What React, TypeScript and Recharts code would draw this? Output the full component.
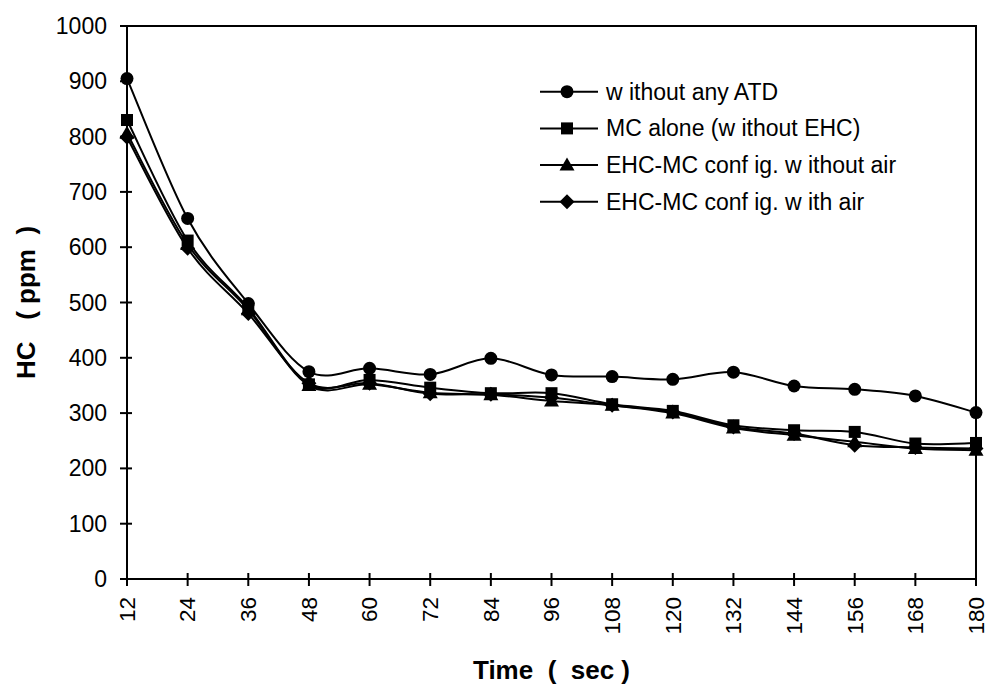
import React from 'react';
import { LineChart, Line, XAxis, YAxis, Legend, ReferenceArea } from 'recharts';

// Time (sec) categories and HC (ppm) readings for each configuration
const TIMES = [12, 24, 36, 48, 60, 72, 84, 96, 108, 120, 132, 144, 156, 168, 180];
const WITHOUT_ATD = [905, 652, 498, 375, 381, 370, 399, 369, 366, 361, 374, 349, 343, 331, 301];
const MC_ALONE = [830, 612, 490, 352, 360, 346, 336, 336, 316, 304, 278, 269, 266, 245, 246];
const EHC_NO_AIR = [806, 605, 487, 350, 352, 337, 333, 322, 314, 300, 273, 260, 248, 236, 233];
const EHC_AIR = [799, 598, 480, 354, 354, 335, 334, 328, 314, 302, 275, 263, 242, 238, 236];
const Y_TICKS = [0, 100, 200, 300, 400, 500, 600, 700, 800, 900, 1000];

const SERIES = [
  { key: 'atd', name: 'w ithout any ATD', shape: 'circle', values: WITHOUT_ATD },
  { key: 'mc', name: 'MC alone (w ithout EHC)', shape: 'square', values: MC_ALONE },
  { key: 'noair', name: 'EHC-MC conf ig. w ithout air', shape: 'triangle', values: EHC_NO_AIR },
  { key: 'air', name: 'EHC-MC conf ig. w ith air', shape: 'diamond', values: EHC_AIR },
];

const data = TIMES.map((t, i) => {
  const row: Record<string, number> = { time: t };
  SERIES.forEach((s) => {
    row[s.key] = s.values[i];
  });
  return row;
});

const FONT = '"Liberation Sans", Arial, sans-serif';

// Smoothed line through the points (cubic Bezier, Catmull-Rom style tangents)
const smoothCurve = (context: any) => {
  let pts: number[][] = [];
  return {
    areaStart() {},
    areaEnd() {},
    lineStart() {
      pts = [];
    },
    point(x: number, y: number) {
      pts.push([+x, +y]);
    },
    lineEnd() {
      const n = pts.length;
      if (!n) return;
      context.moveTo(pts[0][0], pts[0][1]);
      for (let i = 0; i < n - 1; i++) {
        const p0 = pts[i - 1] || pts[i];
        const p1 = pts[i];
        const p2 = pts[i + 1];
        const p3 = pts[i + 2] || p2;
        context.bezierCurveTo(
          p1[0] + (p2[0] - p0[0]) / 6,
          p1[1] + (p2[1] - p0[1]) / 6,
          p2[0] - (p3[0] - p1[0]) / 6,
          p2[1] - (p3[1] - p1[1]) / 6,
          p2[0],
          p2[1]
        );
      }
    },
  };
};

const Marker = ({ shape, cx, cy }: { shape: string; cx: number; cy: number }) => {
  if (shape === 'circle') return <circle cx={cx} cy={cy} r={6.5} fill="#000" />;
  if (shape === 'square') return <rect x={cx - 6} y={cy - 6} width={12} height={12} fill="#000" />;
  if (shape === 'triangle')
    return <polygon points={`${cx},${cy - 7.5} ${cx + 7.5},${cy + 5.5} ${cx - 7.5},${cy + 5.5}`} fill="#000" />;
  return <polygon points={`${cx},${cy - 7.5} ${cx + 7.5},${cy} ${cx},${cy + 7.5} ${cx - 7.5},${cy}`} fill="#000" />;
};

const XTick = (props: any) => {
  const { x, y, payload } = props;
  return (
    <g>
      <line x1={x} y1={y - 6} x2={x} y2={y + 7} stroke="#000" strokeWidth={2} />
      <text
        x={x}
        y={y + 18}
        dy={7.8}
        transform={`rotate(-90 ${x} ${y + 18})`}
        textAnchor="end"
        fontFamily={FONT}
        fontSize={22.5}
        fill="#000"
      >
        {payload.value}
      </text>
    </g>
  );
};

const YTick = (props: any) => {
  const { x, y, payload } = props;
  return (
    <g>
      <line x1={x - 7} y1={y} x2={x + 5} y2={y} stroke="#000" strokeWidth={2} />
      <text x={x - 20} y={y + 8} textAnchor="end" fontFamily={FONT} fontSize={23} fill="#000">
        {payload.value}
      </text>
    </g>
  );
};

const XTitle = (props: any) => {
  const vb = props.viewBox;
  return (
    <text
      x={vb.x + vb.width / 2}
      y={vb.y + 100}
      textAnchor="middle"
      fontFamily={FONT}
      fontWeight="bold"
      fontSize={26}
      style={{ whiteSpace: 'pre' }}
      fill="#000"
    >
      {'Time  (  sec )'}
    </text>
  );
};

const YTitle = (props: any) => {
  const vb = props.viewBox;
  const cy = vb.y + vb.height / 2;
  return (
    <text
      x={35}
      y={cy}
      transform={`rotate(-90 35 ${cy})`}
      textAnchor="middle"
      fontFamily={FONT}
      fontWeight="bold"
      fontSize={26}
      style={{ whiteSpace: 'pre' }}
      fill="#000"
    >
      {'HC   ( ppm  )'}
    </text>
  );
};

const LegendBox = () => (
  <svg width={440} height={150} style={{ display: 'block' }}>
    {SERIES.map((s, i) => {
      const cy = 21.7 + i * 36.7;
      return (
        <g key={s.key}>
          <line x1={10} y1={cy} x2={68} y2={cy} stroke="#000" strokeWidth={2} />
          <Marker shape={s.shape} cx={37} cy={cy} />
          <text x={76} y={cy + 8} fontFamily={FONT} fontSize={23} fill="#000" style={{ whiteSpace: 'pre' }}>
            {s.name}
          </text>
        </g>
      );
    })}
  </svg>
);

export default function App() {
  return (
    <div style={{ position: 'absolute', left: 0, top: 0, background: '#fff' }}>
      <LineChart width={989} height={686} data={data} margin={{ top: 26, right: 13, left: 0, bottom: 0 }}>
        <ReferenceArea
          x1={12}
          x2={180}
          y1={0}
          y2={1000}
          fill="none"
          stroke="#000"
          strokeWidth={2}
          ifOverflow="visible"
        />
        <XAxis
          dataKey="time"
          type="number"
          domain={[12, 180]}
          ticks={TIMES}
          interval={0}
          height={107}
          tickSize={0}
          tickMargin={0}
          tickLine={false}
          axisLine={{ stroke: '#000', strokeWidth: 2 }}
          tick={<XTick />}
          label={<XTitle />}
        />
        <YAxis
          type="number"
          domain={[0, 1000]}
          ticks={Y_TICKS}
          interval={0}
          width={127}
          tickSize={0}
          tickMargin={0}
          tickLine={false}
          axisLine={{ stroke: '#000', strokeWidth: 2 }}
          tick={<YTick />}
          label={<YTitle />}
        />
        <Legend
          layout="horizontal"
          verticalAlign="middle"
          align="center"
          wrapperStyle={{ left: 530, top: 70, width: 440, height: 150 }}
          content={() => <LegendBox />}
        />
        {SERIES.map((s) => (
          <Line
            key={s.key}
            dataKey={s.key}
            name={s.name}
            type={smoothCurve as any}
            stroke="#000"
            strokeWidth={2}
            isAnimationActive={false}
            activeDot={false}
            dot={(p: any) => <Marker key={`${s.key}-${p.index}`} shape={s.shape} cx={p.cx} cy={p.cy} />}
          />
        ))}
      </LineChart>
    </div>
  );
}
